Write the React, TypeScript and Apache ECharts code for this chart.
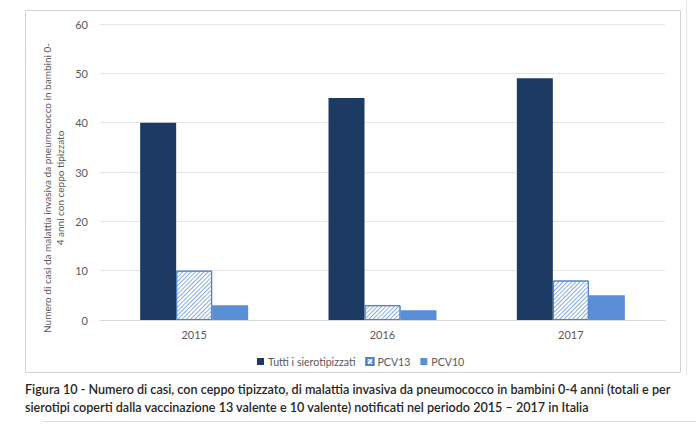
import React, { useEffect, useRef } from "react";
import * as echarts from "echarts";

const categories = ["2015", "2016", "2017"];
const tutti = [40, 45, 49];
const pcv13 = [10, 3, 8];
const pcv10 = [3, 2, 5];
const yTicks = { min: 0, max: 60, interval: 10 };
const yName = "Numero di casi da malattia invasiva da pneumococco in bambini 0-\n4 anni con ceppo tipizzato";
const caption1 = "Figura 10 - Numero di casi, con ceppo tipizzato, di malattia invasiva da pneumococco in bambini 0-4 anni (totali e per";
const caption2 = "sierotipi coperti dalla vaccinazione 13 valente e 10 valente) notificati nel periodo 2015 – 2017 in Italia";

const FONT = "Lato, 'Open Sans', sans-serif";

export default function App() {
  const ref = useRef<HTMLDivElement>(null);
  useEffect(() => {
    const chart = echarts.init(ref.current!, null, { renderer: "svg" });
    const hatch = {
      symbol: "rect",
      color: "#86ade3",
      backgroundColor: "#ffffff",
      dashArrayX: [1, 0],
      dashArrayY: [1, 1.8],
      rotation: -Math.PI / 4,
      symbolSize: 1,
    };
    chart.setOption({
      animation: false,
      backgroundColor: "#ffffff",
      textStyle: { fontFamily: FONT },
      grid: { left: 100, right: 31, top: 24, bottom: 107 },
      legend: {
        top: 351,
        left: 252,
        itemWidth: 7,
        itemHeight: 7,
        itemGap: 10,
        icon: "rect",
        textStyle: { color: "#595959", fontSize: 10.6, fontFamily: FONT, padding: [0, 0, 0, -1] },
        data: ["Tutti i sierotipizzati", "PCV13", "PCV10"],
      },
      xAxis: {
        type: "category",
        data: categories,
        axisLine: { lineStyle: { color: "#d9d9d9" } },
        axisTick: { show: false },
        axisLabel: { color: "#595959", fontSize: 11, margin: 9, fontFamily: FONT },
      },
      yAxis: {
        type: "value",
        min: yTicks.min,
        max: yTicks.max,
        interval: yTicks.interval,
        axisLine: { show: false },
        axisTick: { show: false },
        axisLabel: { color: "#595959", fontSize: 11, margin: 12, fontFamily: FONT },
        splitLine: { lineStyle: { color: "#e6e6e6" } },
      },
      series: [
        {
          name: "Tutti i sierotipizzati",
          type: "bar",
          data: tutti,
          barWidth: 36,
          barGap: "0%",
          itemStyle: { color: "#1c3a62" },
        },
        {
          name: "PCV13",
          type: "bar",
          data: pcv13,
          barWidth: 36,
          barGap: "0%",
          itemStyle: { color: "#ffffff", borderColor: "#4f81c7", borderWidth: 1, decal: hatch },
        },
        {
          name: "PCV10",
          type: "bar",
          data: pcv10,
          barWidth: 36,
          barGap: "0%",
          itemStyle: { color: "#5a8fd8" },
        },
      ],
      graphic: [
        {
          type: "rect",
          shape: { x: 25.5, y: 10.5, width: 655, height: 362 },
          style: { fill: "none", stroke: "#d4d4d4", lineWidth: 1 },
          silent: true,
        },
        {
          type: "line",
          shape: { x1: 686.5, y1: 0, x2: 686.5, y2: 375 },
          style: { stroke: "#e8e8e8", lineWidth: 1 },
          silent: true,
        },
        {
          type: "line",
          shape: { x1: 43, y1: 421.5, x2: 696, y2: 421.5 },
          style: { stroke: "#dcdcdc", lineWidth: 1 },
          silent: true,
        },
        {
          type: "text",
          x: 53,
          y: 188,
          rotation: Math.PI / 2,
          style: {
            text: yName,
            fill: "#595959",
            font: "10px " + FONT,
            lineHeight: 13,
            align: "center",
            verticalAlign: "middle",
          },
          silent: true,
        },
        {
          type: "text",
          left: 25,
          top: 383,
          style: { text: caption1, fill: "#262626", font: "600 12.6px " + FONT },
          silent: true,
        },
        {
          type: "text",
          left: 25,
          top: 401,
          style: { text: caption2, fill: "#262626", font: "600 12.6px " + FONT },
          silent: true,
        },
      ],
    });
    return () => chart.dispose();
  }, []);
  return (
    <div
      ref={ref}
      style={{ position: "fixed", left: 0, top: 0, width: 696, height: 427 }}
    />
  );
}
